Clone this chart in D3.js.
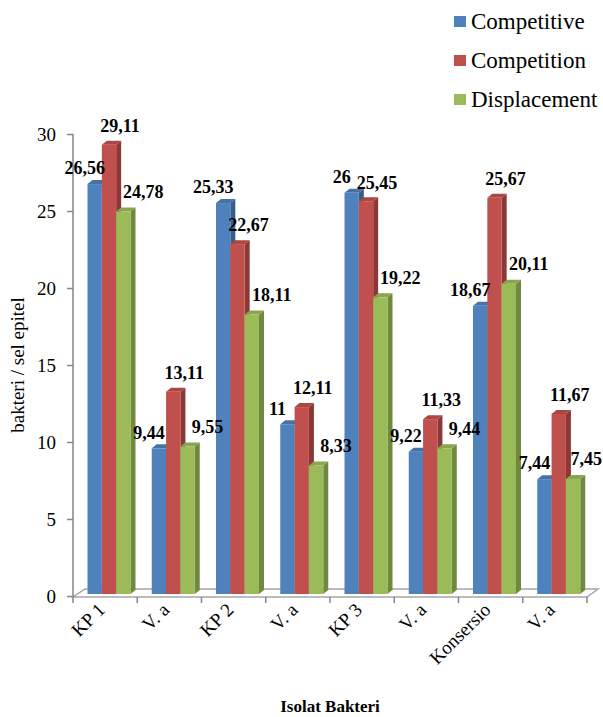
<!DOCTYPE html>
<html>
<head>
<meta charset="utf-8">
<script src="https://cdn.jsdelivr.net/npm/d3@7"></script>
<style>
  body { margin: 0; background: #fff; }
</style>
</head>
<body>
<div id="chart"></div>
<script>
// data
const categories = ["KP 1", "V. a", "KP 2", "V. a", "KP 3", "V. a", "Konsersio", "V. a"];
const seriesNames = ["Competitive", "Competition", "Displacement"];
const competitive = [26.56, 9.44, 25.33, 11, 26, 9.22, 18.67, 7.44];
const competition = [29.11, 13.11, 22.67, 12.11, 25.45, 11.33, 25.67, 11.67];
const displacement = [24.78, 9.55, 18.11, 8.33, 19.22, 9.44, 20.11, 7.45];
const yTicks = [0, 5, 10, 15, 20, 25, 30];

const seriesValues = [competitive, competition, displacement];
const colors = ["#4F81BD", "#C0504D", "#9BBB59"];
const sideColors = ["#385D8A", "#8C3836", "#71893F"];
const topColors = ["#4672A8", "#AA4643", "#89A54E"];

const W = 603, H = 717;
const depth = {dx: 5, dy: 4};
const serif = "Liberation Serif";

let svg = d3.select("#chart").append("svg")
    .attr("width", W)
    .attr("height", H)
    .attr("font-family", serif);

let idx = d3.range(categories.length);

let x0 = d3.scaleBand()
    .domain(idx)
    .range([73, 587]);

let x1 = d3.scaleBand()
    .domain(seriesNames)
    .range([14.5, 57.5]);

let y = d3.scaleLinear().domain([0, 30]).range([596, 134]);
// bar fronts sit slightly behind the axis plane
let yb = d3.scaleLinear().domain([0, 30]).range([594, 131]);

// floor
let fx0 = x0.range()[0], fx1 = x0.range()[1], fy = 597;
svg.append("path")
    .attr("d", "M" + fx0 + "," + fy + "L" + fx1 + "," + fy +
               "L" + (fx1 + 11) + "," + (fy - 8) +
               "L" + (fx0 + 12) + "," + (fy - 8) + "Z")
    .attr("fill", "none")
    .attr("stroke", "#A6A6A6")
    .attr("stroke-width", 1.5);

// y axis
let yAxis = svg.append("g")
    .attr("transform", "translate(73,0)")
    .call(d3.axisLeft(y).tickValues(yTicks).tickSize(6).tickSizeOuter(0).tickPadding(11));
yAxis.attr("font-family", serif).attr("font-size", 19);
yAxis.select(".domain").attr("stroke", "#868686").attr("stroke-width", 1.5)
    .attr("d", "M0," + y(30) + "V" + fy);
yAxis.selectAll(".tick line").attr("stroke", "#868686").attr("stroke-width", 1.5);
yAxis.selectAll(".tick text")
    .attr("font-family", serif)
    .attr("font-size", 19)
    .attr("fill", "#000");

// x ticks at category boundaries
svg.append("g")
    .selectAll("line")
    .data(d3.range(categories.length + 1))
    .enter().append("line")
    .attr("x1", function(i) { return fx0 + i * x0.step(); })
    .attr("x2", function(i) { return fx0 + i * x0.step(); })
    .attr("y1", fy)
    .attr("y2", fy + 6)
    .attr("stroke", "#868686")
    .attr("stroke-width", 1.5);

// bars
let groups = svg.append("g")
    .selectAll("g")
    .data(idx)
    .enter().append("g")
    .attr("transform", function(i) { return "translate(" + x0(i) + ",0)"; });

function cells(i) {
    return seriesNames.map(function(s, k) { return {i: i, k: k, value: seriesValues[k][i]}; });
}

let bars = groups.selectAll("g")
    .data(cells)
    .enter().append("g");

let bw = x1.bandwidth();
let bottom = yb(0);

bars.append("path")
    .attr("d", function(d) {
        let x = x1(seriesNames[d.k]), t = yb(d.value);
        return "M" + (x + bw) + "," + t + "L" + (x + bw + depth.dx) + "," + (t - depth.dy) +
               "L" + (x + bw + depth.dx) + "," + (bottom - depth.dy) + "L" + (x + bw) + "," + bottom + "Z";
    })
    .attr("fill", function(d) { return sideColors[d.k]; });

bars.append("path")
    .attr("d", function(d) {
        let x = x1(seriesNames[d.k]), t = yb(d.value);
        return "M" + x + "," + t + "L" + (x + depth.dx) + "," + (t - depth.dy) +
               "L" + (x + bw + depth.dx) + "," + (t - depth.dy) + "L" + (x + bw) + "," + t + "Z";
    })
    .attr("fill", function(d) { return topColors[d.k]; });

bars.append("rect")
    .attr("x", function(d) { return x1(seriesNames[d.k]); })
    .attr("y", function(d) { return yb(d.value); })
    .attr("width", bw)
    .attr("height", function(d) { return bottom - yb(d.value); })
    .attr("fill", function(d) { return colors[d.k]; });

// value labels on top of every bar, nudged per series like the original
let labelShift = [{dx: -10, dy: -16}, {dx: 11, dy: -19}, {dx: 20, dy: -20}];
let labelData = [].concat.apply([], idx.map(cells));
svg.append("g")
    .selectAll("text")
    .data(labelData)
    .enter().append("text")
    .attr("x", function(d) { return x0(d.i) + x1(seriesNames[d.k]) + bw / 2 + labelShift[d.k].dx; })
    .attr("y", function(d) { return yb(d.value) + labelShift[d.k].dy; })
    .attr("dy", "0.35em")
    .attr("text-anchor", "middle")
    .attr("font-family", serif)
    .attr("font-size", 18)
    .attr("font-weight", "bold")
    .text(function(d) { return String(d.value).replace(".", ","); })
    .each(function() {
        // keep the label inside the page
        let b = this.getBBox();
        if (b.x + b.width > W - 1) {
            d3.select(this).attr("x", +d3.select(this).attr("x") - (b.x + b.width - W + 1));
        }
    });

// category labels
svg.append("g")
    .selectAll("text")
    .data(idx)
    .enter().append("text")
    .attr("transform", function(i) { return "translate(" + (x0(i) + x0.step() / 2 + 1) + "," + (fy + 14) + ") rotate(-45)"; })
    .attr("text-anchor", "end")
    .attr("font-family", serif)
    .attr("font-size", 19)
    .text(function(i) { return categories[i]; });

// axis titles
svg.append("text")
    .attr("transform", "translate(24,365) rotate(-90)")
    .attr("text-anchor", "middle")
    .attr("font-family", serif)
    .attr("font-size", 19)
    .text("bakteri / sel epitel");

svg.append("text")
    .attr("x", 330)
    .attr("y", 712)
    .attr("text-anchor", "middle")
    .attr("font-family", serif)
    .attr("font-size", 17)
    .attr("font-weight", "bold")
    .text("Isolat Bakteri");

// legend
let legend = svg.append("g")
    .selectAll("g")
    .data(seriesNames)
    .enter().append("g")
    .attr("transform", function(d, i) { return "translate(454," + (16 + i * 39) + ")"; });

legend.append("rect")
    .attr("width", 12)
    .attr("height", 11)
    .attr("fill", function(d, i) { return colors[i]; });

legend.append("text")
    .attr("x", 17)
    .attr("y", 13)
    .attr("font-family", serif)
    .attr("font-size", 23)
    .text(function(d) { return d; });
</script>
</body>
</html>
